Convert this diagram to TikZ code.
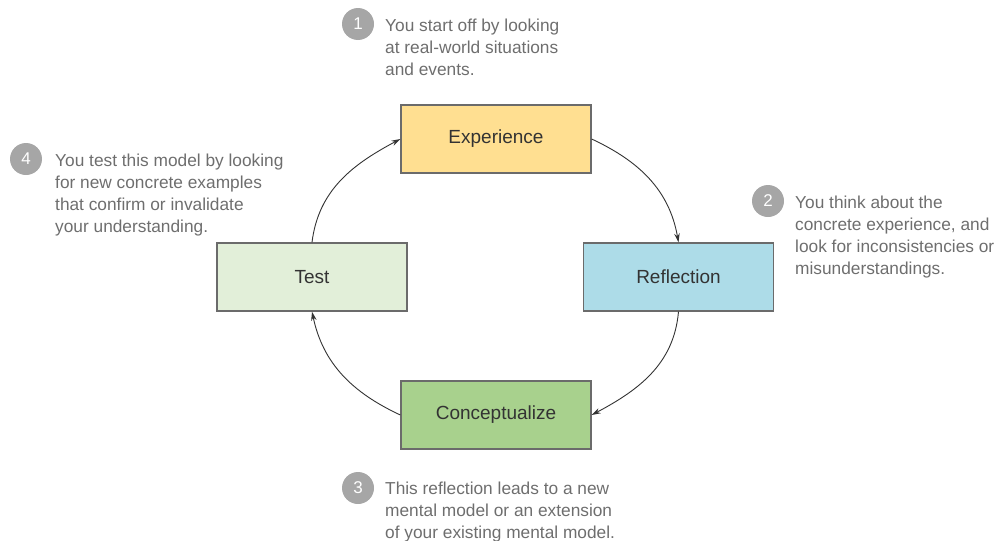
\documentclass[tikz,border=0pt]{standalone}
\usepackage{fontspec}
\setmainfont{Liberation Sans}
\usetikzlibrary{arrows.meta}
\definecolor{boxline}{HTML}{6B6B6B}
\definecolor{labeltext}{HTML}{333333}
\definecolor{notetext}{HTML}{6E6E6E}
\definecolor{numfill}{HTML}{A6A6A6}
\definecolor{expfill}{HTML}{FFDF91}
\definecolor{reffill}{HTML}{ADDCE8}
\definecolor{tstfill}{HTML}{E2EFD9}
\definecolor{conFill}{HTML}{A8D18D}
\definecolor{arrowcol}{HTML}{333333}
\tikzset{
  stagebox/.style={draw=boxline, line width=1.3pt, minimum width=190pt, minimum height=68pt,
    inner sep=0pt, text=labeltext, font=\fontsize{19}{22}\selectfont},
  numdot/.style={circle, fill=numfill, minimum size=32pt, inner sep=0pt, text=white,
    font=\fontsize{17}{20}\selectfont},
  note/.style={anchor=north west, inner sep=0pt, align=left, text=notetext,
    font=\fontsize{17.3}{22}\selectfont},
  flow/.style={draw=arrowcol, line width=0.9pt, -{Stealth[length=9pt,width=5.5pt]}},
}
\begin{document}
\begin{tikzpicture}[x=1pt,y=1pt]
\useasboundingbox (0,0) rectangle (1002,-541);
\node[stagebox, fill=expfill] (exp) at (496,-139) {Experience};
\node[stagebox, fill=reffill] (ref) at (678.5,-277) {Reflection};
\node[stagebox, fill=conFill] (con) at (496,-415) {Conceptualize};
\node[stagebox, fill=tstfill] (tst) at (312,-277) {Test};

\draw[flow] (exp.east) to[out=-25, in=100] (ref.north);
\draw[flow] (ref.south) to[out=-95, in=28] (con.east);
\draw[flow] (con.west) to[out=155, in=-78] (tst.south);
\draw[flow] (tst.north) to[out=83, in=208] (exp.west);

\node[numdot] (n1) at (358,-24) {1};
\node[note] (t1) at (385,-19) {You start off by looking\\at real-world situations\\and events.};
\node[numdot] (n2) at (768,-201) {2};
\node[note] (t2) at (795,-196) {You think about the\\concrete experience, and\\look for inconsistencies or\\misunderstandings.};
\node[numdot] (n3) at (358,-488) {3};
\node[note] (t3) at (385,-482) {This reflection leads to a new\\mental model or an extension\\of your existing mental model.};
\node[numdot] (n4) at (26,-159) {4};
\node[note] (t4) at (55,-154) {You test this model by looking\\for new concrete examples\\that confirm or invalidate\\your understanding.};
\end{tikzpicture}
\end{document}
